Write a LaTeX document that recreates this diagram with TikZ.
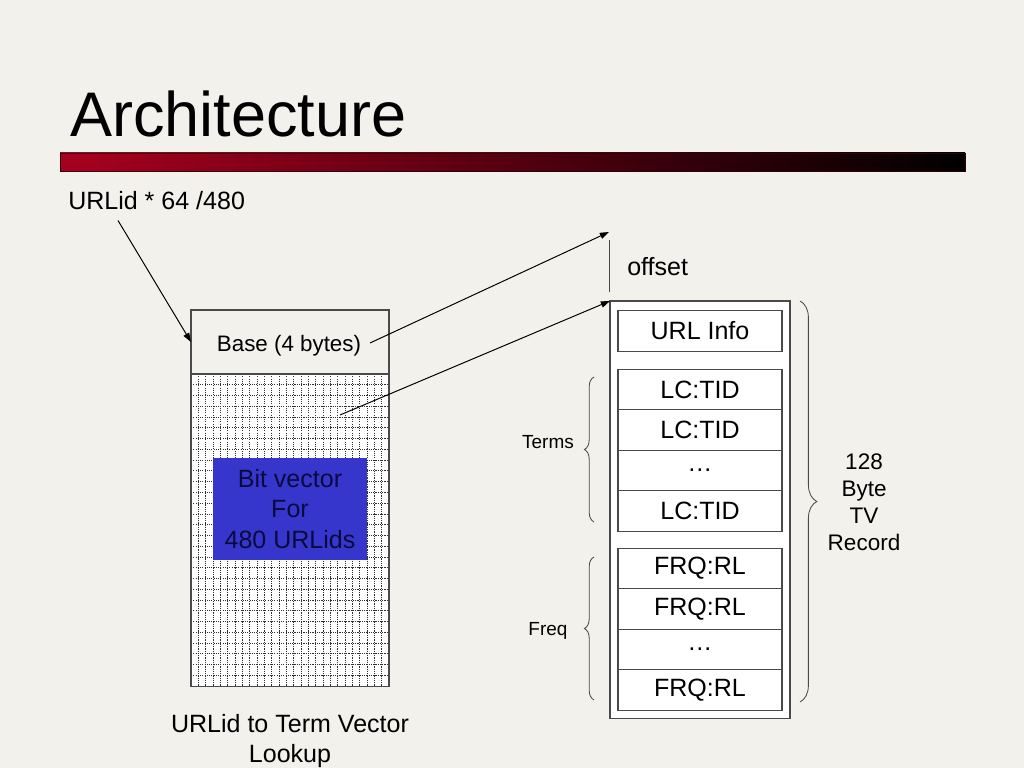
\documentclass[tikz,border=0pt]{standalone}
\usepackage{fontspec}
\setmainfont{Liberation Sans}
\usetikzlibrary{arrows.meta,positioning,decorations.pathreplacing}
\definecolor{BackClr}{HTML}{F2F1EC}
\definecolor{BarClr}{HTML}{A8001F}
\definecolor{VecClr}{HTML}{3636CC}
\definecolor{VecTxtClr}{HTML}{0A0A3C}
\definecolor{LineClr}{HTML}{4A4A4A}
\definecolor{GridClr}{HTML}{303030}

\begin{document}
\begin{tikzpicture}[x=0.025cm,y=-0.025cm,
  txt/.style={font=\fontsize{17.8}{21.5}\selectfont},
  cell/.style={draw=LineClr,line width=0.8pt,fill=white,minimum width=4.1cm,
    minimum height=1.0125cm,inner sep=0pt,outer sep=0pt,txt},
  ptr/.style={line width=0.7pt,-{Triangle[length=6.5pt,width=4.5pt]}},
  brc/.style={decorate,LineClr,line width=0.6pt}]
\fill[BackClr] (0,0) rectangle (1024,768);
\useasboundingbox (0,0) rectangle (1024,768);

% title and bar
\node[anchor=base west,inner sep=0pt,font=\fontsize{44.8}{50}\selectfont] (title) at (70,137) {Architecture};
\shade[left color=BarClr,middle color=BarClr!72!black,right color=black] (60,153) rectangle (965,171);
\draw[black!70!BarClr,line width=0.6pt] (60,153) rectangle (965,171);

% lookup table
\node[anchor=west,inner sep=0pt,txt] (urlid) at (68,201) {URLid * 64 /480};
\node[draw=LineClr,line width=0.8pt,fill=BackClr,minimum width=4.95cm,minimum height=1.6cm,
  anchor=north west,outer sep=0pt] (base) at (191,310) {};
\node[font=\fontsize{15.9}{19}\selectfont] (basetxt) at (289,346) {Base (4 bytes)};
\node[draw=LineClr,line width=0.8pt,fill=white,minimum width=4.95cm,minimum height=7.8cm,
  anchor=north west,outer sep=0pt] (vec) at (191,374) {};
\begin{scope}
\clip (191,374) rectangle (389,686);
\foreach \i in {1,...,26}
  \draw[GridClr,line width=0.5pt,dash pattern=on 0.8pt off 0.8pt] ({191+\i*198/27},374) -- ({191+\i*198/27},686);
\foreach \j in {1,...,28}
  \draw[GridClr,line width=0.5pt,dash pattern=on 0.8pt off 0.8pt] (191,{374+\j*312/29}) -- (389,{374+\j*312/29});
\end{scope}
\draw[LineClr,line width=0.8pt] (vec.north west) rectangle (vec.south east);
\node[fill=VecClr,minimum width=3.85cm,minimum height=2.55cm,align=center,
  text=VecTxtClr,font=\fontsize{17.8}{21.5}\selectfont] (bits) at (290,509) {Bit vector\\For\\480 URLids};
\node[align=center,font=\fontsize{17.8}{22}\selectfont] (lookup) at (290,741) {URLid to Term Vector\\Lookup};

% term vector record
\node[draw=LineClr,line width=0.8pt,fill=white,minimum width=4.5cm,minimum height=10.425cm,
  outer sep=0pt] (rec) at (700,509.5) {};
\node[cell] (info) at (700,331) {URL Info};
\node[cell] (lc1) at (700,389.5) {LC:TID};
\node[cell,below=0pt of lc1] (lc2) {LC:TID};
\node[cell,below=0pt of lc2] (lc3) {…};
\node[cell,below=0pt of lc3] (lc4) {LC:TID};
\node[cell] (fq1) at (700,568.5) {FRQ:RL};
\node[cell,below=0pt of fq1] (fq2) {FRQ:RL};
\node[cell,below=0pt of fq2] (fq3) {…};
\node[cell,below=0pt of fq3] (fq4) {FRQ:RL};

% offset
\coordinate (offtop) at (609,232);
\coordinate (basept) at (370,343);
\coordinate (vecpt) at (340,415);
\draw[LineClr,line width=0.7pt] (609,240) -- (609,292);
\node[anchor=west,inner sep=0pt,txt] (offset) at (627,267) {offset};

\draw[ptr] (urlid.south west) ++(50,10) coordinate (urlfoot) -- (base.west);
\draw[ptr] (basept) -- (offtop);
\draw[ptr] (vecpt) -- (rec.north west);

% braces
\draw[brc,decoration={brace,amplitude=0.24cm}] (594,522) -- (594,377);
\draw[brc,decoration={brace,amplitude=0.24cm}] (594,700) -- (594,557);
\draw[brc,decoration={brace,amplitude=0.42cm}] (800,301) -- (800,702);
\node[font=\fontsize{13.5}{16}\selectfont] (terms) at (548,442) {Terms};
\node[font=\fontsize{13.5}{16}\selectfont] (freq) at (548,631) {Freq};
\node[align=center,font=\fontsize{16}{19.2}\selectfont] (tvrec) at (864,502) {128\\Byte\\TV\\Record};
\end{tikzpicture}
\end{document}
